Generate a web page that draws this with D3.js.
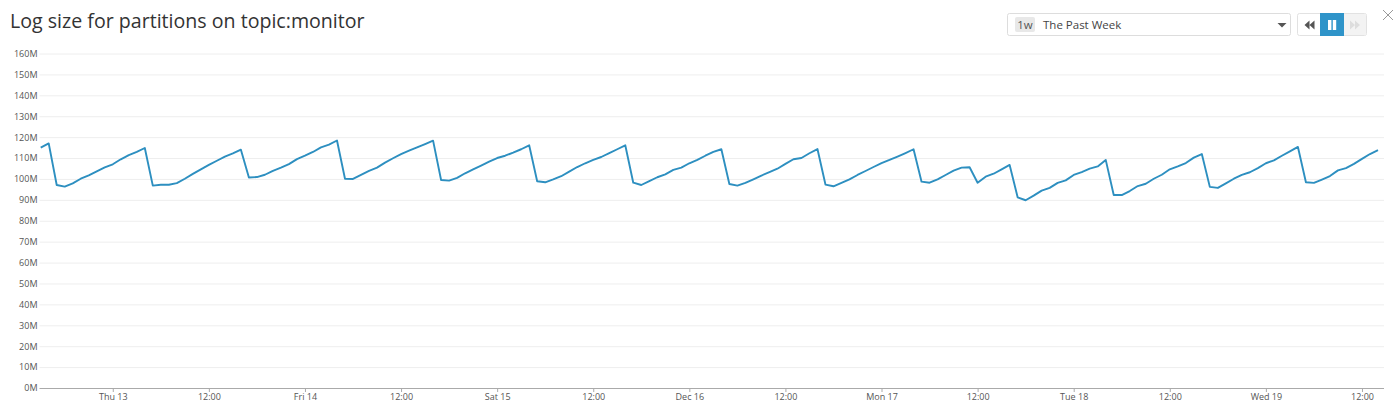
<!DOCTYPE html>
<html>
<head>
<meta charset="utf-8">
<script src="https://cdnjs.cloudflare.com/ajax/libs/d3/7.8.5/d3.min.js"></script>
<style>
html, body { margin: 0; padding: 0; background: #fff; }
svg { display: block; font-family: "Open Sans", "Noto Sans", sans-serif; }
.tick text { fill: #555; font-size: 9px; font-family: "Open Sans", "Noto Sans", sans-serif; }
</style>
</head>
<body>
<svg id="chart" width="1400" height="416"></svg>
<script>
const title = "Log size for partitions on topic:monitor";
const y_ticks = [0, 10, 20, 30, 40, 50, 60, 70, 80, 90, 100, 110, 120, 130, 140, 150, 160];
const x_ticks = ["2018-12-13T00:00Z", "2018-12-13T12:00Z", "2018-12-14T00:00Z", "2018-12-14T12:00Z",
    "2018-12-15T00:00Z", "2018-12-15T12:00Z", "2018-12-16T00:00Z", "2018-12-16T12:00Z",
    "2018-12-17T00:00Z", "2018-12-17T12:00Z", "2018-12-18T00:00Z", "2018-12-18T12:00Z",
    "2018-12-19T00:00Z", "2018-12-19T12:00Z"];
const x_labels = ["Thu 13", "12:00", "Fri 14", "12:00", "Sat 15", "12:00", "Dec 16", "12:00",
    "Mon 17", "12:00", "Tue 18", "12:00", "Wed 19", "12:00"];

// hourly samples in millions, first one at Dec 12 15:00
const first_sample = "2018-12-12T15:00Z";
const log_size = [
    115, 117,
    97.1, 96.3, 97.9, 100.1, 101.7, 103.6, 105.5, 107, 109.4, 111.4, 112.9, 114.8,
    96.8, 97.2, 97.2, 98, 100.1, 102.4, 104.6, 106.7, 108.7, 110.7, 112.2, 114,
    100.7, 100.9, 102, 103.9, 105.4, 107.1, 109.5, 111.1, 112.9, 115.1, 116.4, 118.4,
    100.1, 100, 101.9, 103.9, 105.4, 107.8, 109.9, 111.9, 113.5, 115.1, 116.7, 118.3,
    99.5, 99.2, 100.5, 102.7, 104.6, 106.4, 108.3, 110, 111.1, 112.6, 114.2, 116.1,
    98.9, 98.4, 99.8, 101.3, 103.5, 105.7, 107.5, 109.1, 110.5, 112.3, 114.2, 116.1,
    98.2, 97.1, 99, 100.8, 102.2, 104.3, 105.4, 107.5, 109.1, 111.1, 112.9, 114.2,
    97.6, 96.8, 98.1, 99.8, 101.6, 103.2, 104.9, 107.2, 109.4, 110, 112.3, 114.3,
    97.3, 96.5, 98.1, 99.8, 101.9, 103.8, 105.7, 107.6, 109.1, 110.7, 112.4, 114.2,
    98.7, 98.2, 99.8, 101.9, 104, 105.4, 105.6, 98.2, 101.1, 102.5, 104.6, 106.7,
    91.2, 89.8, 92, 94.4, 95.7, 98.1, 99.3, 101.9, 103.3, 104.9, 106, 109.1,
    92.3, 92.3, 94.2, 96.6, 97.7, 100.1, 102, 104.6, 106, 107.6, 110.2, 111.9,
    96.2, 95.7, 97.9, 100.1, 101.9, 103.2, 105.2, 107.5, 108.9, 111.1, 113.2, 115.3,
    98.4, 98.1, 99.7, 101.4, 104.1, 105.2, 107.2, 109.6, 111.9, 113.8
];

const margin = {top: 53.5, right: 16, bottom: 28, left: 39.5};
const width = 1400;
const height = 416;

const svg = d3.select("#chart");
const hour = 3600 * 1000;
const t0 = new Date(first_sample).getTime();

const x = d3.scaleUtc()
    .domain([new Date(t0 - 0.15 * hour), new Date(t0 + 167.75 * hour)])
    .range([margin.left, width - margin.right]);
const y = d3.scaleLinear()
    .domain([0, 160])
    .range([height - margin.bottom, margin.top]);

// grid and y labels
const y_axis = svg.append("g")
    .attr("transform", "translate(" + margin.left + ",0)")
    .call(d3.axisLeft(y).tickValues(y_ticks).tickSize(0).tickPadding(2).tickFormat(d => d + "M"));
y_axis.select(".domain").remove();
y_axis.selectAll("g.tick")
    .filter(d => d != 0)
    .append("line")
    .attr("x2", width - margin.right - margin.left)
    .attr("stroke", "#eeeeee");

// x axis
const x_axis = svg.append("g")
    .attr("transform", "translate(0," + (height - margin.bottom) + ")")
    .call(d3.axisBottom(x)
        .tickValues(x_ticks.map(d => new Date(d)))
        .tickSize(4)
        .tickPadding(2)
        .tickFormat((d, i) => x_labels[i]));
x_axis.select(".domain").attr("stroke", "#aaaaaa").attr("d", "M" + margin.left + ",0.5H" + (width - margin.right));
x_axis.selectAll("line").attr("stroke", "#aaaaaa");

const line = d3.line()
    .x((d, i) => x(new Date(t0 + i * hour)))
    .y(d => y(d));

svg.append("path")
    .datum(log_size)
    .attr("d", line)
    .attr("fill", "none")
    .attr("stroke", "#2d8fc0")
    .attr("stroke-width", 1.9)
    .attr("stroke-linejoin", "round");

svg.append("text")
    .attr("x", 10)
    .attr("y", 28)
    .attr("font-size", 19.6)
    .attr("fill", "#333")
    .text(title);

// timeframe dropdown
const controls = svg.append("g");
controls.append("rect")
    .attr("x", 1007.5).attr("y", 13.5).attr("width", 283).attr("height", 22).attr("rx", 2)
    .attr("fill", "#fff").attr("stroke", "#dddddd");
controls.append("rect")
    .attr("x", 1015).attr("y", 17).attr("width", 20).attr("height", 15).attr("rx", 2)
    .attr("fill", "#e8e8e8");
controls.append("text")
    .attr("x", 1025).attr("y", 29).attr("text-anchor", "middle").attr("font-size", 11.5).attr("fill", "#555")
    .text("1w");
controls.append("text")
    .attr("x", 1043).attr("y", 29).attr("font-size", 11.5).attr("fill", "#444")
    .text("The Past Week");
controls.append("path")
    .attr("d", "M1277.5,23h9l-4.5,4.5z").attr("fill", "#555");

// playback buttons
controls.append("rect")
    .attr("x", 1297.5).attr("y", 13.5).attr("width", 69).attr("height", 22).attr("rx", 2)
    .attr("fill", "#fff").attr("stroke", "#e2e2e2");
controls.append("rect")
    .attr("x", 1344).attr("y", 14).attr("width", 22).attr("height", 21)
    .attr("fill", "#f3f3f3");
controls.append("rect")
    .attr("x", 1320).attr("y", 13).attr("width", 24).attr("height", 23)
    .attr("fill", "#2f94c9");
controls.append("path")
    .attr("d", "M1304.5,25l5,-4.5v9zM1309.5,25l5,-4.5v9z").attr("fill", "#555");
controls.append("path")
    .attr("d", "M1328,20h3.4v10h-3.4zM1332.8,20h3.4v10h-3.4z").attr("fill", "#fff");
controls.append("path")
    .attr("d", "M1350,20.5l5,4.5l-5,4.5zM1355,20.5l5,4.5l-5,4.5z").attr("fill", "#dddddd");

svg.append("path")
    .attr("d", "M1383,10L1393,20M1393,10L1383,20")
    .attr("stroke", "#999")
    .attr("fill", "none");
</script>
</body>
</html>
